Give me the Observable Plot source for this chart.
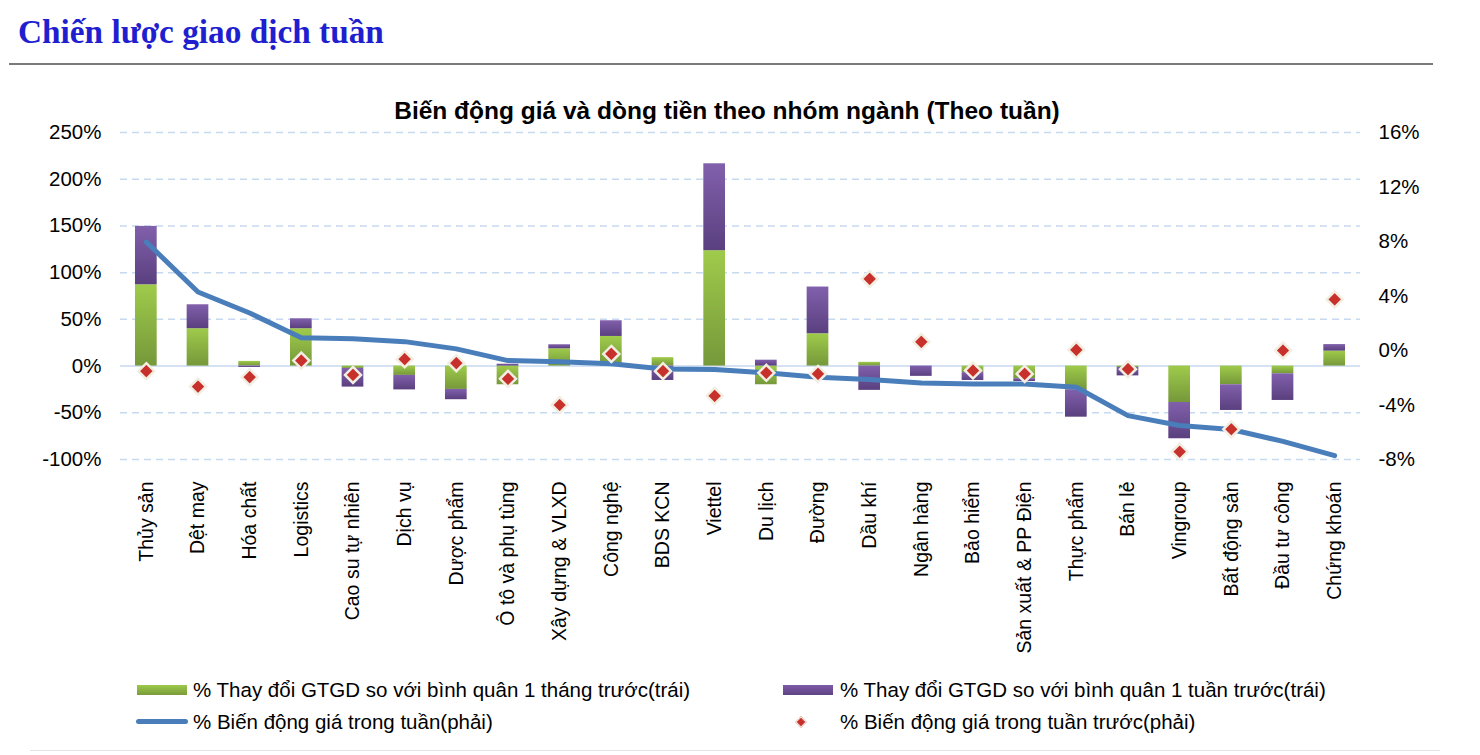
<!DOCTYPE html>
<html><head><meta charset="utf-8">
<script src="https://cdn.jsdelivr.net/npm/d3@7"></script>
<script src="https://cdn.jsdelivr.net/npm/@observablehq/plot@0.6"></script>
<style>
body{margin:0;background:#fff;width:1480px;height:755px;position:relative;overflow:hidden;font-family:"Liberation Sans",Arial,sans-serif;color:#000;}
#hdr{position:absolute;left:18px;top:11px;font-family:"Liberation Serif","Times New Roman",serif;font-weight:bold;font-size:33.3px;color:#1f1fd0;line-height:42px;}
#hr{position:absolute;left:9px;top:63px;width:1424px;border-top:2px solid #7a7a7a;}
#ctitle{position:absolute;left:0;width:1454px;top:97px;text-align:center;font-weight:bold;font-size:24.5px;line-height:28px;}
#chart{position:absolute;left:0;top:120px;}
.lg{position:absolute;font-size:20.5px;line-height:24px;white-space:nowrap;}
.sw{position:absolute;}
#bottom{position:absolute;left:30px;top:750px;width:1410px;border-top:1px solid #e3e3e3;}
</style></head>
<body>
<div id="hdr">Chiến lược giao dịch tuần</div>
<div id="hr"></div>
<div id="ctitle">Biến động giá và dòng tiền theo nhóm ngành (Theo tuần)</div>
<div id="chart"></div>
<div class="sw" style="left:137px;top:685px;width:50px;height:10px;background:linear-gradient(#9dc94a,#7a9b3b);"></div>
<div class="lg" style="left:193px;top:678px;">% Thay đổi GTGD so với bình quân 1 tháng trước(trái)</div>
<div class="sw" style="left:783px;top:685px;width:50px;height:10px;background:linear-gradient(#7f5ba9,#5d4382);"></div>
<div class="lg" style="left:840px;top:678px;">% Thay đổi GTGD so với bình quân 1 tuần trước(trái)</div>
<div class="sw" style="left:136px;top:719px;width:52px;height:5px;border-radius:3px;background:#4a7ebb;"></div>
<div class="lg" style="left:193px;top:710px;">% Biến động giá trong tuần(phải)</div>
<div class="sw" style="left:797px;top:718px;width:6px;height:6px;background:#c8312b;transform:rotate(45deg);border:1px solid #efe8da;"></div>
<div class="lg" style="left:840px;top:710px;">% Biến động giá trong tuần trước(phải)</div>
<div id="bottom"></div>
<script>
const categories = ["Thủy sản","Dệt may","Hóa chất","Logistics","Cao su tự nhiên","Dịch vụ","Dược phẩm","Ô tô và phụ tùng","Xây dựng & VLXD","Công nghệ","BDS KCN","Viettel","Du lịch","Đường","Dầu khí","Ngân hàng","Bảo hiểm","Sản xuất & PP Điện","Thực phẩm","Bán lẻ","Vingroup","Bất động sản","Đầu tư công","Chứng khoán"];
const monthChange = [87, 40, 5, 40, -2.5, -10, -25, -20, 18.5, 31.7, 9, 123.5, -20, 34.6, 4, 0, -7, -13.5, -25.4, -1.5, -39, -20, -8.3, 16];
const weekChange = [62.5, 25.6, -1.5, 10.6, -20, -15.5, -11, 2, 4.3, 16.8, -15.4, 93, 6.3, 50, -26, -11, -8.4, -3, -29.3, -9, -38.8, -27.5, -28.5, 7];
const weekPrice = [7.96, 4.29, 2.75, 0.93, 0.86, 0.65, 0.12, -0.74, -0.83, -0.98, -1.35, -1.4, -1.64, -1.96, -2.13, -2.38, -2.45, -2.45, -2.7, -4.78, -5.5, -5.8, -6.67, -7.72];
const prevWeekPrice = [-1.52, -2.65, -1.96, -0.74, -1.79, -0.64, -0.93, -2.08, -4.0, -0.25, -1.52, -3.33, -1.64, -1.72, 5.25, 0.64, -1.47, -1.72, 0.05, -1.37, -7.43, -5.78, 0.0, 3.75];
const leftTicks = [-100, -50, 0, 50, 100, 150, 200, 250];
const rightTicks = [-8, -4, 0, 4, 8, 12, 16];

const toLeft = r => (r + 8) * 350 / 24 - 100;
const toRight = l => (l + 100) * 24 / 350 - 8;

const barRows = [];
categories.forEach((c, i) => barRows.push({cat: c, series: "month", v: monthChange[i]}));
categories.forEach((c, i) => barRows.push({cat: c, series: "week", v: weekChange[i]}));
const priceRows = categories.map((c, i) => ({cat: c, p: weekPrice[i], q: prevWeekPrice[i]}));

const chart = Plot.plot({
  width: 1480,
  height: 540,
  marginLeft: 120,
  marginRight: 120,
  marginTop: 12,
  marginBottom: 201,
  style: {fontFamily: "'Liberation Sans', Arial, sans-serif", fontSize: "20px", color: "#000", background: "transparent"},
  x: {domain: categories, paddingInner: 0.58, paddingOuter: 0.29, round: false, label: null},
  y: {domain: [-100, 250], label: null},
  color: {domain: ["month", "week"], range: ["url(#gGreen)", "url(#gPurple)"]},
  marks: [
    Plot.gridY(leftTicks.filter(t => t !== 0), {stroke: "#c6d9f0", strokeOpacity: 1, strokeWidth: 1.5, strokeDasharray: "7,5"}),
    Plot.ruleY([0], {stroke: "#c6d9f0", strokeWidth: 1.5}),
    Plot.barY(barRows, {x: "cat", y: "v", z: "series", fill: "series"}),
    Plot.lineY(priceRows, {x: "cat", y: d => toLeft(d.p), stroke: "#4a7ebb", strokeWidth: 5, strokeLinejoin: "round", strokeLinecap: "round"}),
    Plot.dot(priceRows, {x: "cat", y: d => toLeft(d.q), symbol: "diamond2", r: 7.2, fill: "#c8312b", stroke: "#f3eee2", strokeWidth: 2.5}),
    Plot.axisY(leftTicks, {anchor: "left", tickSize: 0, tickPadding: 19, tickFormat: d => d + "%", label: null, fontSize: 20.5}),
    Plot.axisY(rightTicks.map(toLeft), {anchor: "right", tickSize: 0, tickPadding: 18, tickFormat: d => Math.round(toRight(d)) + "%", label: null, fontSize: 20.5}),
    Plot.axisX({tickRotate: -90, tickSize: 0, tickPadding: 22, label: null, fontSize: 19.5})
  ]
});

const ns = "http://www.w3.org/2000/svg";
const defs = document.createElementNS(ns, "defs");
defs.innerHTML = '<linearGradient id="gGreen" x1="0" y1="0" x2="0" y2="1"><stop offset="0" stop-color="#9fcb4b"/><stop offset="1" stop-color="#76983a"/></linearGradient>' +
  '<linearGradient id="gPurple" x1="0" y1="0" x2="0" y2="1"><stop offset="0" stop-color="#8160ac"/><stop offset="1" stop-color="#5a407f"/></linearGradient>';
chart.insertBefore(defs, chart.firstChild);
document.getElementById("chart").appendChild(chart);
</script>
</body></html>
